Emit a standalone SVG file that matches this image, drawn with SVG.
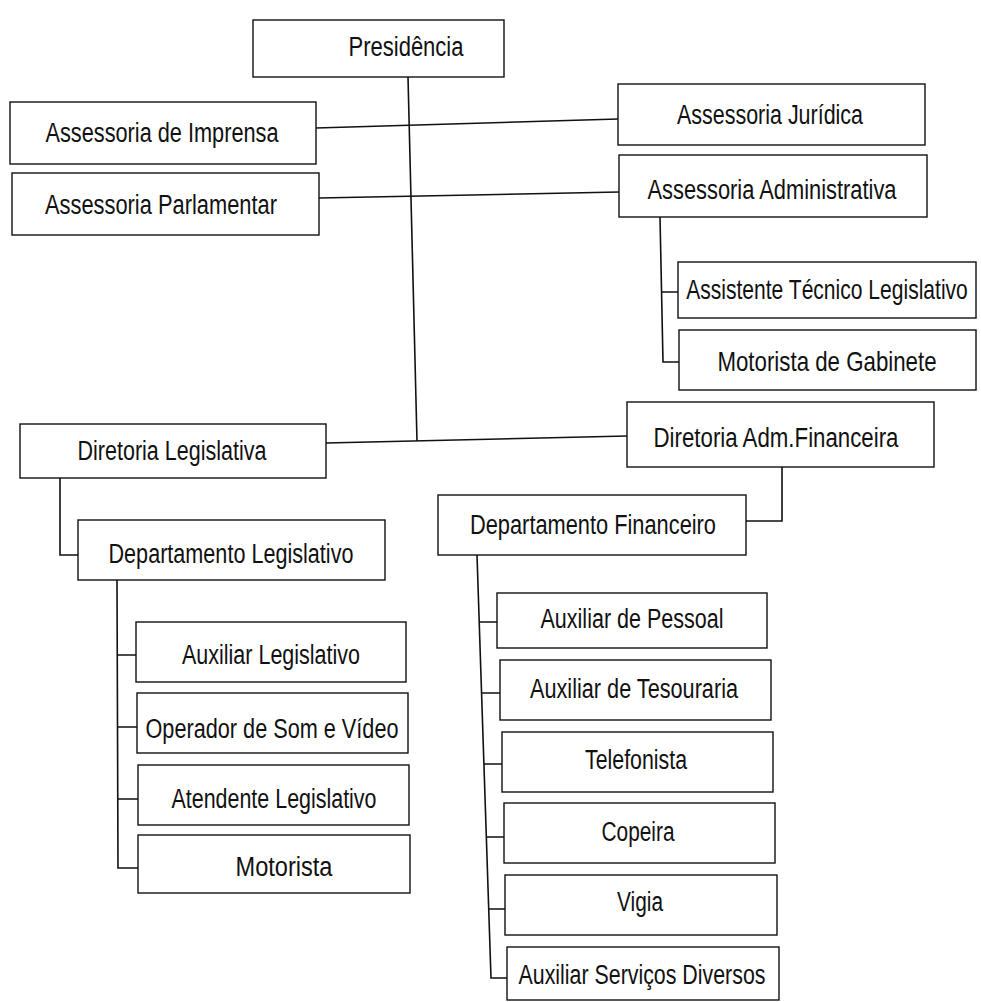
<svg xmlns="http://www.w3.org/2000/svg" width="981" height="1002" viewBox="0 0 981 1002">
<style>
.box{fill:#fff;stroke:#111;stroke-width:1.4}
.t{font-family:"Liberation Sans",Arial,sans-serif;font-size:27px;fill:#111;text-anchor:middle}
.c{fill:none;stroke:#111;stroke-width:1.6}
</style>
<rect width="981" height="1002" fill="#fff"/>
<g id="connectors">
<path class="c" d="M408,77 L417,441"/>
<path class="c" d="M316,128 L618,119"/>
<path class="c" d="M319,198 L619,192"/>
<path class="c" d="M326,443 L627,436"/>
<path class="c" d="M660,217 L663,362 L679,362 M661,292 L678,292"/>
<path class="c" d="M60,478 L60,555 L78,555"/>
<path class="c" d="M782,467 L782,521 L746,521"/>
<path class="c" d="M117,580 L118,868 L138,868 M117,655 L136,655 M118,727 L137,727 M118,799 L138,799"/>
<path class="c" d="M477,555 L491,978 L507,978 M479,622 L497,622 M481,693 L500,693 M484,764 L502,764 M486,837 L504,837 M489,909 L505,909"/>
</g>
<g id="presidencia"><rect class="box" x="253" y="20" width="251" height="57"/><text class="t" x="406" y="56" textLength="115" lengthAdjust="spacingAndGlyphs">Presidência</text></g>
<g id="imprensa"><rect class="box" x="10" y="102" width="306" height="62"/><text class="t" x="162" y="142" textLength="233" lengthAdjust="spacingAndGlyphs">Assessoria de Imprensa</text></g>
<g id="parlamentar"><rect class="box" x="12" y="173" width="307" height="62"/><text class="t" x="161" y="214" textLength="232" lengthAdjust="spacingAndGlyphs">Assessoria Parlamentar</text></g>
<g id="juridica"><rect class="box" x="618" y="84" width="307" height="61"/><text class="t" x="770" y="124" textLength="186" lengthAdjust="spacingAndGlyphs">Assessoria Jurídica</text></g>
<g id="administrativa"><rect class="box" x="619" y="155" width="308" height="62"/><text class="t" x="772" y="199" textLength="249" lengthAdjust="spacingAndGlyphs">Assessoria Administrativa</text></g>
<g id="assistente"><rect class="box" x="678" y="262" width="298" height="56"/><text class="t" transform="translate(827,299) scale(0.78,1)" x="0" y="0">Assistente Técnico Legislativo</text></g>
<g id="motorista-gabinete"><rect class="box" x="679" y="330" width="297" height="60"/><text class="t" transform="translate(827,371) scale(0.825,1)" x="0" y="0">Motorista de Gabinete</text></g>
<g id="diretoria-legislativa"><rect class="box" x="20" y="424" width="306" height="54"/><text class="t" x="172" y="460" textLength="189" lengthAdjust="spacingAndGlyphs">Diretoria Legislativa</text></g>
<g id="diretoria-adm"><rect class="box" x="627" y="402" width="307" height="65"/><text class="t" x="776" y="447" textLength="245" lengthAdjust="spacingAndGlyphs">Diretoria Adm.Financeira</text></g>
<g id="dep-legislativo"><rect class="box" x="78" y="520" width="307" height="60"/><text class="t" x="231" y="563" textLength="245" lengthAdjust="spacingAndGlyphs">Departamento Legislativo</text></g>
<g id="dep-financeiro"><rect class="box" x="438" y="495" width="308" height="60"/><text class="t" x="593" y="534" textLength="246" lengthAdjust="spacingAndGlyphs">Departamento Financeiro</text></g>
<g id="aux-legislativo"><rect class="box" x="136" y="622" width="270" height="60"/><text class="t" x="271" y="664" textLength="178" lengthAdjust="spacingAndGlyphs">Auxiliar Legislativo</text></g>
<g id="operador"><rect class="box" x="137" y="693" width="271" height="60"/><text class="t" x="272" y="738" textLength="253" lengthAdjust="spacingAndGlyphs">Operador de Som e Vídeo</text></g>
<g id="atendente"><rect class="box" x="138" y="765" width="271" height="60"/><text class="t" x="274" y="808" textLength="205" lengthAdjust="spacingAndGlyphs">Atendente Legislativo</text></g>
<g id="motorista"><rect class="box" x="138" y="835" width="272" height="58"/><text class="t" x="284" y="876" textLength="97" lengthAdjust="spacingAndGlyphs">Motorista</text></g>
<g id="aux-pessoal"><rect class="box" x="497" y="593" width="270" height="55"/><text class="t" x="632" y="628" textLength="183" lengthAdjust="spacingAndGlyphs">Auxiliar de Pessoal</text></g>
<g id="aux-tesouraria"><rect class="box" x="500" y="660" width="271" height="60"/><text class="t" x="634" y="698" textLength="208" lengthAdjust="spacingAndGlyphs">Auxiliar de Tesouraria</text></g>
<g id="telefonista"><rect class="box" x="502" y="732" width="271" height="60"/><text class="t" x="636" y="769" textLength="102" lengthAdjust="spacingAndGlyphs">Telefonista</text></g>
<g id="copeira"><rect class="box" x="504" y="803" width="271" height="60"/><text class="t" x="638" y="841" textLength="73" lengthAdjust="spacingAndGlyphs">Copeira</text></g>
<g id="vigia"><rect class="box" x="505" y="875" width="272" height="60"/><text class="t" x="640" y="911" textLength="46" lengthAdjust="spacingAndGlyphs">Vigia</text></g>
<g id="aux-servicos"><rect class="box" x="507" y="947" width="272" height="53"/><text class="t" x="642" y="984" textLength="247" lengthAdjust="spacingAndGlyphs">Auxiliar Serviços Diversos</text></g>
</svg>
